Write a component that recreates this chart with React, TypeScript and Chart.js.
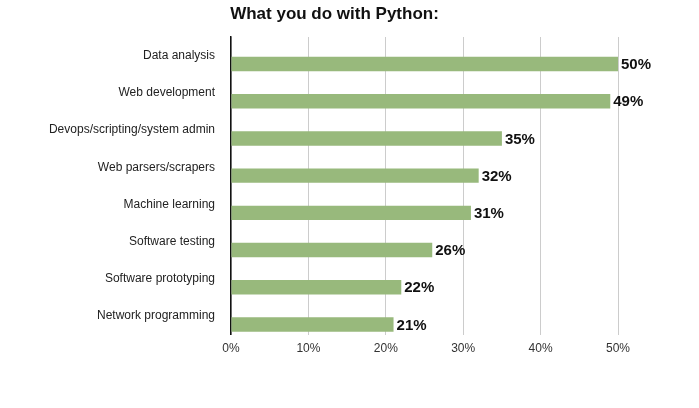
import React, { useEffect, useRef } from "react";
import { Chart, registerables } from "chart.js";

Chart.register(...registerables);

const categories = [
  "Data analysis",
  "Web development",
  "Devops/scripting/system admin",
  "Web parsers/scrapers",
  "Machine learning",
  "Software testing",
  "Software prototyping",
  "Network programming",
];
const values = [50, 49, 35, 32, 31, 26, 22, 21];
const xTicks = [0, 10, 20, 30, 40, 50];
const titleText = "What you do with Python:";

const FONT = "'Liberation Sans', Arial, Helvetica, sans-serif";

const valueLabels = {
  id: "valueLabels",
  afterLayout(chart: any) {
    // let the long category labels extend past the left layout padding
    chart.scales.y.left = 0;
  },
  afterDatasetsDraw(chart: any) {
    const ctx = chart.ctx;
    const meta = chart.getDatasetMeta(1);
    ctx.save();
    ctx.font = `bold 15px ${FONT}`;
    ctx.fillStyle = "#111";
    ctx.textAlign = "left";
    ctx.textBaseline = "middle";
    meta.data.forEach((bar: any, i: number) => {
      ctx.fillText(values[i] + "%", bar.x + 3, bar.y + 1);
    });
    ctx.restore();
  },
};

export default function App() {
  const ref = useRef<HTMLCanvasElement | null>(null);
  useEffect(() => {
    document.body.style.margin = "0";
    const chart = new Chart(ref.current as HTMLCanvasElement, {
      type: "bar",
      data: {
        labels: categories,
        datasets: [
          {
            data: categories.map(() => null),
            backgroundColor: "rgba(0,0,0,0)",
          },
          {
            data: values,
            backgroundColor: "#98b97c",
            borderWidth: 0,
          },
        ],
      },
      options: {
        indexAxis: "y",
        animation: false,
        responsive: false,
        categoryPercentage: 0.91,
        barPercentage: 0.85,
        layout: { padding: { left: 51, right: 81, top: 0, bottom: 45 } },
        plugins: {
          legend: { display: false },
          tooltip: { enabled: false },
          title: {
            display: true,
            text: titleText,
            color: "#111",
            font: { family: FONT, size: 17, weight: "bold" },
            padding: { top: 4, bottom: 12.6 },
          },
        },
        scales: {
          x: {
            min: 0,
            max: 50,
            afterBuildTicks: (scale: any) => {
              scale.ticks = xTicks.map((v) => ({ value: v }));
            },
            ticks: {
              color: "#333",
              font: { family: FONT, size: 12 },
              padding: 7,
              callback: (v: any) => v + "%",
            },
            grid: { color: "#cccccc", lineWidth: 1, drawTicks: false },
            border: { display: false },
          },
          y: {
            afterFit: (scale: any) => {
              scale.width = 180;
            },
            ticks: {
              color: "#222",
              font: { family: FONT, size: 12 },
              padding: 16,
            },
            grid: { display: false, drawTicks: false },
            border: { display: true, color: "#111", width: 1.5 },
          },
        },
      },
      plugins: [valueLabels],
    });
    return () => chart.destroy();
  }, []);
  return (
    <div style={{ width: 699, height: 408 }}>
      <canvas ref={ref} width={699} height={408} />
    </div>
  );
}
